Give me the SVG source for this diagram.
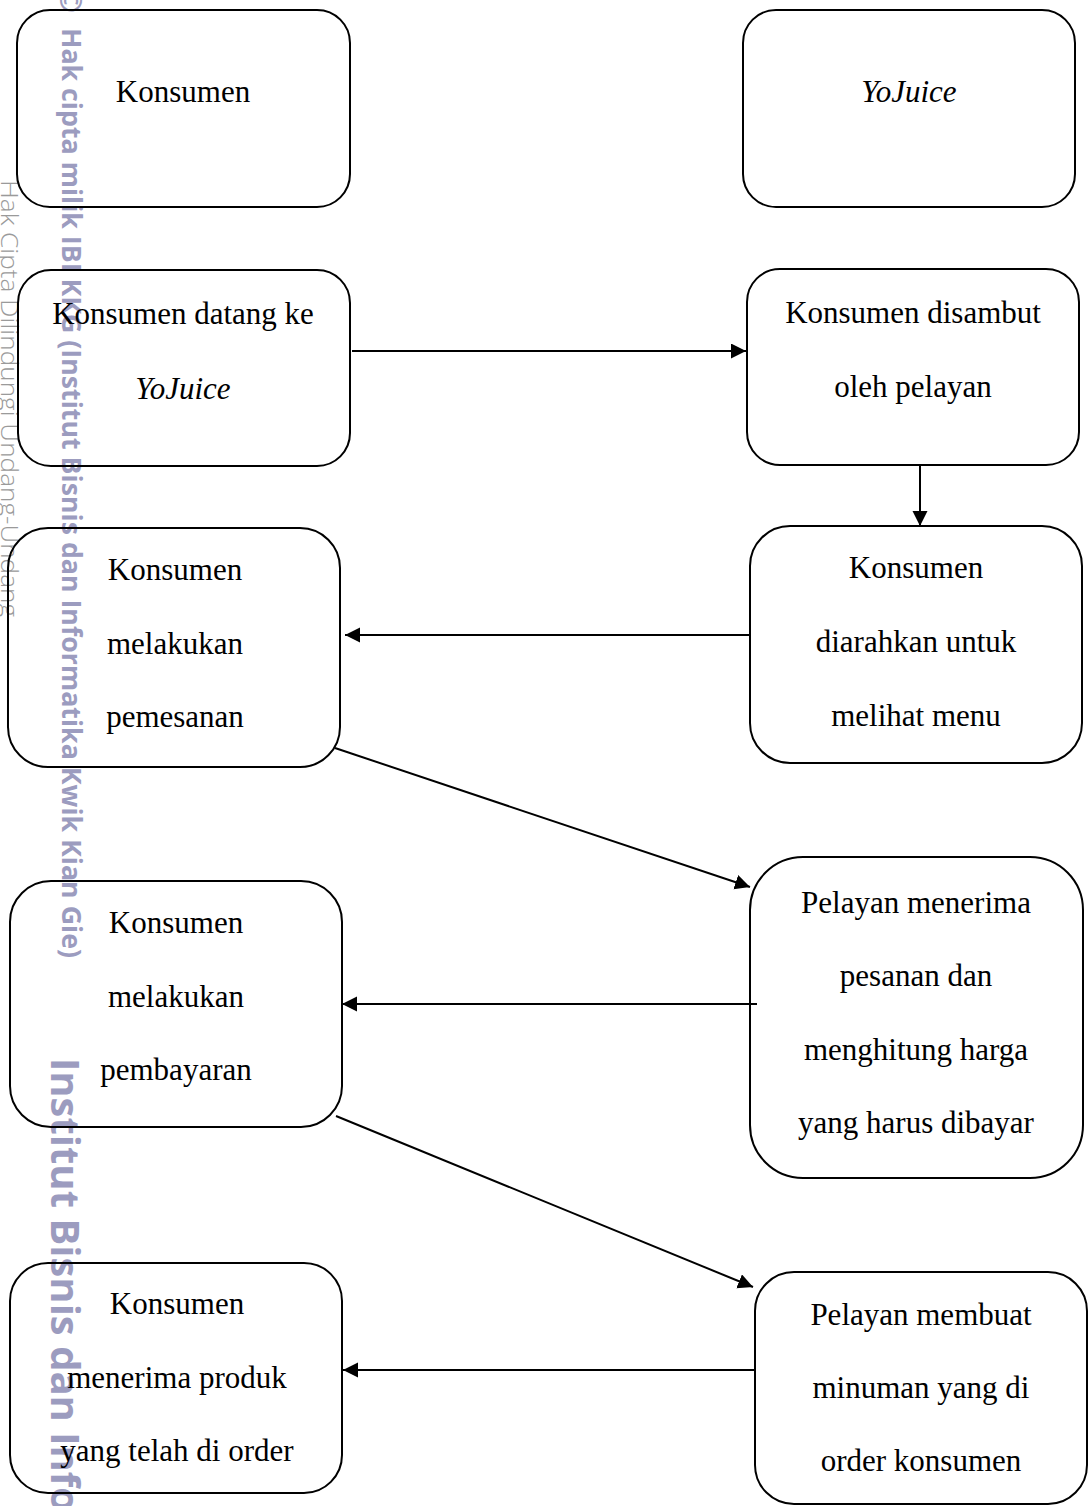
<svg xmlns="http://www.w3.org/2000/svg" width="1088" height="1506" viewBox="0 0 1088 1506">
<style>
.box{fill:none;stroke:#000;stroke-width:2}
.t{font-family:"Liberation Serif","Times New Roman",serif;font-size:31px;fill:#000;text-anchor:middle}
.i{font-style:italic}
.wm{font-family:"Open Sans","DejaVu Sans",sans-serif;font-weight:700;fill:#9c9cbf}
.wg{font-family:"Open Sans","DejaVu Sans",sans-serif;font-weight:300;fill:#9a9a9a}
.c{stroke:#000;stroke-width:2;fill:none;marker-end:url(#ah)}
</style>
<defs>
<marker id="ah" markerUnits="userSpaceOnUse" markerWidth="16" markerHeight="16" refX="15" refY="7.5" orient="auto">
<path d="M0,0 L15,7.5 L0,15 z" fill="#000"/>
</marker>
</defs>
<rect width="1088" height="1506" fill="#fff"/>
<g id="watermark">
<text class="wg" font-size="23" transform="translate(1,180) rotate(90)" textLength="437" lengthAdjust="spacingAndGlyphs">Hak Cipta Dilindungi Undang-Undang</text>
<text class="wm" font-size="30" font-weight="400" transform="translate(60,-12) rotate(90)">©</text>
<text class="wm" font-size="26" transform="translate(62,28) rotate(90)" textLength="930" lengthAdjust="spacingAndGlyphs">Hak cipta milik IBI KKG (Institut Bisnis dan Informatika Kwik Kian Gie)</text>
<text class="wm" font-size="40" transform="translate(51,1058) rotate(90)">Institut Bisnis dan Infor</text>
</g>
<g id="connectors">
<line class="c" x1="352" y1="351" x2="746" y2="351"/>
<line class="c" x1="920" y1="465" x2="920" y2="526"/>
<line class="c" x1="751" y1="635" x2="345" y2="635"/>
<line class="c" x1="335" y1="748" x2="750" y2="887"/>
<line class="c" x1="757" y1="1004" x2="342" y2="1004"/>
<line class="c" x1="336" y1="1116" x2="753" y2="1287"/>
<line class="c" x1="755" y1="1370" x2="343" y2="1370"/>
</g>
<g id="n1"><rect class="box" x="17" y="10" width="333" height="197" rx="33"/><text class="t" x="183" y="102">Konsumen</text></g>
<g id="n2"><rect class="box" x="743" y="10" width="332" height="197" rx="33"/><text class="t i" x="909" y="102">YoJuice</text></g>
<g id="n3"><rect class="box" x="18" y="270" width="332" height="196" rx="33"/><text class="t" x="183" y="324">Konsumen datang ke</text><text class="t i" x="183" y="399">YoJuice</text></g>
<g id="n4"><rect class="box" x="747" y="269" width="332" height="196" rx="33"/><text class="t" x="913" y="323">Konsumen disambut</text><text class="t" x="913" y="397">oleh pelayan</text></g>
<g id="n5"><rect class="box" x="750" y="526" width="332" height="237" rx="40"/><text class="t" x="916" y="578">Konsumen</text><text class="t" x="916" y="652">diarahkan untuk</text><text class="t" x="916" y="726">melihat menu</text></g>
<g id="n6"><rect class="box" x="8" y="528" width="332" height="239" rx="40"/><text class="t" x="175" y="580">Konsumen</text><text class="t" x="175" y="654">melakukan</text><text class="t" x="175" y="727">pemesanan</text></g>
<g id="n7"><rect class="box" x="750" y="857" width="333" height="321" rx="53"/><text class="t" x="916" y="913">Pelayan menerima</text><text class="t" x="916" y="986">pesanan dan</text><text class="t" x="916" y="1060">menghitung harga</text><text class="t" x="916" y="1133">yang harus dibayar</text></g>
<g id="n8"><rect class="box" x="10" y="881" width="332" height="246" rx="41"/><text class="t" x="176" y="933">Konsumen</text><text class="t" x="176" y="1007">melakukan</text><text class="t" x="176" y="1080">pembayaran</text></g>
<g id="n9"><rect class="box" x="10" y="1263" width="332" height="230" rx="38"/><text class="t" x="177" y="1314">Konsumen</text><text class="t" x="177" y="1388">menerima produk</text><text class="t" x="177" y="1461">yang telah di order</text></g>
<g id="n10"><rect class="box" x="755" y="1272" width="332" height="232" rx="39"/><text class="t" x="921" y="1325">Pelayan membuat</text><text class="t" x="921" y="1398">minuman yang di</text><text class="t" x="921" y="1471">order konsumen</text></g>
</svg>
